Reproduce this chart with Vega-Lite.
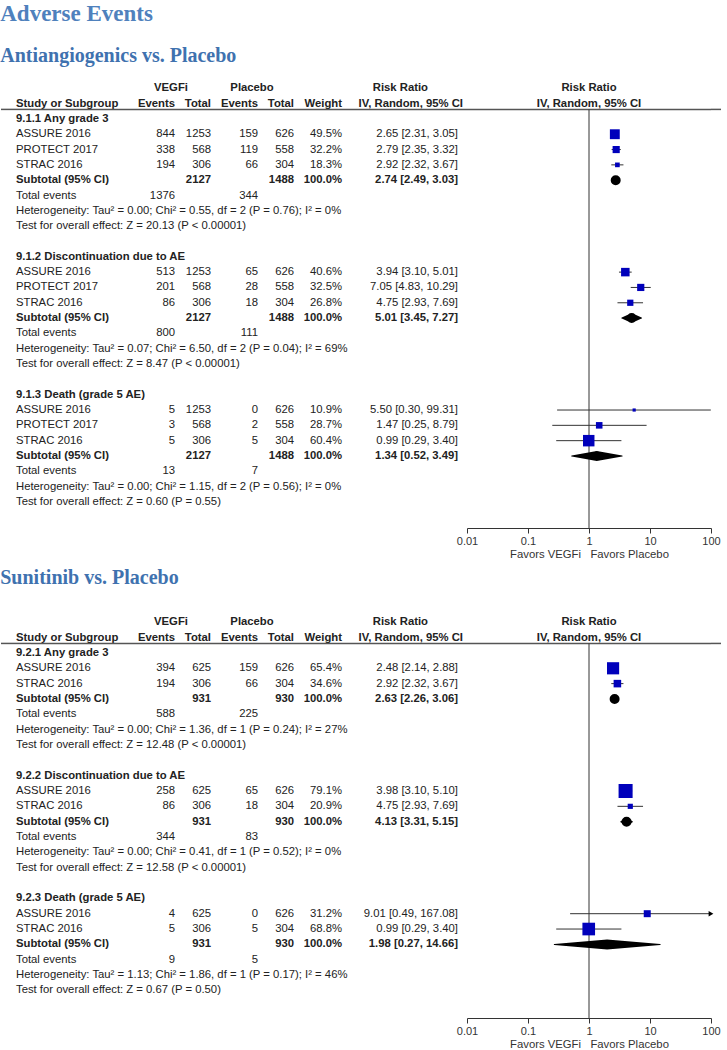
{
"$schema": "https://vega.github.io/schema/vega-lite/v6.json",
"padding": {"left": 0, "top": 3, "right": 0, "bottom": 0},
"background": "white",
"title": {"text": "Adverse Events", "subtitle": "Antiangiogenics vs. Placebo", "anchor": "start", "font": "Liberation Serif", "fontSize": 23, "fontWeight": "bold", "color": "#4F81BD", "subtitleFont": "Liberation Serif", "subtitleFontSize": 20, "subtitleFontWeight": "bold", "subtitleColor": "#3F72AF", "subtitlePadding": 20, "offset": 10},
"config": {"view": {"stroke": null}, "axis": {"grid": false}, "text": {"font": "Liberation Sans", "fontSize": 11.3, "color": "#222", "baseline": "middle"}},
"datasets": {
"hdr": [
{"row": -2, "col": "vE", "text": "VEGFi"},
{"row": -2, "col": "pE", "text": "Placebo"},
{"row": -2, "col": "ci", "text": "Risk Ratio"},
{"row": -2, "col": "forest", "text": "Risk Ratio"},
{"row": -1, "col": "study", "text": "Study or Subgroup"},
{"row": -1, "col": "vE", "text": "Events"},
{"row": -1, "col": "vT", "text": "Total"},
{"row": -1, "col": "pE", "text": "Events"},
{"row": -1, "col": "pT", "text": "Total"},
{"row": -1, "col": "w", "text": "Weight"},
{"row": -1, "col": "ci", "text": "IV, Random, 95% CI"},
{"row": -1, "col": "forest", "text": "IV, Random, 95% CI"}
],
"a": [
{"row": 0, "kind": "group", "study": "9.1.1 Any grade 3"},
{"row": 1, "kind": "study", "study": "ASSURE 2016", "vE": 844, "vT": 1253, "pE": 159, "pT": 626, "w": 0.495, "ci": "2.65 [2.31, 3.05]", "est": 2.65, "lo": 2.31, "hi": 3.05},
{"row": 2, "kind": "study", "study": "PROTECT 2017", "vE": 338, "vT": 568, "pE": 119, "pT": 558, "w": 0.322, "ci": "2.79 [2.35, 3.32]", "est": 2.79, "lo": 2.35, "hi": 3.32},
{"row": 3, "kind": "study", "study": "STRAC 2016", "vE": 194, "vT": 306, "pE": 66, "pT": 304, "w": 0.183, "ci": "2.92 [2.32, 3.67]", "est": 2.92, "lo": 2.32, "hi": 3.67},
{"row": 4, "kind": "sub", "study": "Subtotal (95% CI)", "vT": 2127, "pT": 1488, "w": 1, "ci": "2.74 [2.49, 3.03]", "est": 2.74, "lo": 2.49, "hi": 3.03},
{"row": 5, "kind": "tot", "study": "Total events", "vE": 1376, "pE": 344},
{"row": 6, "kind": "note", "study": "Heterogeneity: Tau² = 0.00; Chi² = 0.55, df = 2 (P = 0.76); I² = 0%"},
{"row": 7, "kind": "note", "study": "Test for overall effect: Z = 20.13 (P < 0.00001)"},
{"row": 9, "kind": "group", "study": "9.1.2 Discontinuation due to AE"},
{"row": 10, "kind": "study", "study": "ASSURE 2016", "vE": 513, "vT": 1253, "pE": 65, "pT": 626, "w": 0.406, "ci": "3.94 [3.10, 5.01]", "est": 3.94, "lo": 3.10, "hi": 5.01},
{"row": 11, "kind": "study", "study": "PROTECT 2017", "vE": 201, "vT": 568, "pE": 28, "pT": 558, "w": 0.325, "ci": "7.05 [4.83, 10.29]", "est": 7.05, "lo": 4.83, "hi": 10.29},
{"row": 12, "kind": "study", "study": "STRAC 2016", "vE": 86, "vT": 306, "pE": 18, "pT": 304, "w": 0.268, "ci": "4.75 [2.93, 7.69]", "est": 4.75, "lo": 2.93, "hi": 7.69},
{"row": 13, "kind": "sub", "study": "Subtotal (95% CI)", "vT": 2127, "pT": 1488, "w": 1, "ci": "5.01 [3.45, 7.27]", "est": 5.01, "lo": 3.45, "hi": 7.27},
{"row": 14, "kind": "tot", "study": "Total events", "vE": 800, "pE": 111},
{"row": 15, "kind": "note", "study": "Heterogeneity: Tau² = 0.07; Chi² = 6.50, df = 2 (P = 0.04); I² = 69%"},
{"row": 16, "kind": "note", "study": "Test for overall effect: Z = 8.47 (P < 0.00001)"},
{"row": 18, "kind": "group", "study": "9.1.3 Death (grade 5 AE)"},
{"row": 19, "kind": "study", "study": "ASSURE 2016", "vE": 5, "vT": 1253, "pE": 0, "pT": 626, "w": 0.109, "ci": "5.50 [0.30, 99.31]", "est": 5.50, "lo": 0.30, "hi": 99.31},
{"row": 20, "kind": "study", "study": "PROTECT 2017", "vE": 3, "vT": 568, "pE": 2, "pT": 558, "w": 0.287, "ci": "1.47 [0.25, 8.79]", "est": 1.47, "lo": 0.25, "hi": 8.79},
{"row": 21, "kind": "study", "study": "STRAC 2016", "vE": 5, "vT": 306, "pE": 5, "pT": 304, "w": 0.604, "ci": "0.99 [0.29, 3.40]", "est": 0.99, "lo": 0.29, "hi": 3.40},
{"row": 22, "kind": "sub", "study": "Subtotal (95% CI)", "vT": 2127, "pT": 1488, "w": 1, "ci": "1.34 [0.52, 3.49]", "est": 1.34, "lo": 0.52, "hi": 3.49},
{"row": 23, "kind": "tot", "study": "Total events", "vE": 13, "pE": 7},
{"row": 24, "kind": "note", "study": "Heterogeneity: Tau² = 0.00; Chi² = 1.15, df = 2 (P = 0.56); I² = 0%"},
{"row": 25, "kind": "note", "study": "Test for overall effect: Z = 0.60 (P = 0.55)"}
],
"s": [
{"row": 0, "kind": "group", "study": "9.2.1 Any grade 3"},
{"row": 1, "kind": "study", "study": "ASSURE 2016", "vE": 394, "vT": 625, "pE": 159, "pT": 626, "w": 0.654, "ci": "2.48 [2.14, 2.88]", "est": 2.48, "lo": 2.14, "hi": 2.88},
{"row": 2, "kind": "study", "study": "STRAC 2016", "vE": 194, "vT": 306, "pE": 66, "pT": 304, "w": 0.346, "ci": "2.92 [2.32, 3.67]", "est": 2.92, "lo": 2.32, "hi": 3.67},
{"row": 3, "kind": "sub", "study": "Subtotal (95% CI)", "vT": 931, "pT": 930, "w": 1, "ci": "2.63 [2.26, 3.06]", "est": 2.63, "lo": 2.26, "hi": 3.06},
{"row": 4, "kind": "tot", "study": "Total events", "vE": 588, "pE": 225},
{"row": 5, "kind": "note", "study": "Heterogeneity: Tau² = 0.00; Chi² = 1.36, df = 1 (P = 0.24); I² = 27%"},
{"row": 6, "kind": "note", "study": "Test for overall effect: Z = 12.48 (P < 0.00001)"},
{"row": 8, "kind": "group", "study": "9.2.2 Discontinuation due to AE"},
{"row": 9, "kind": "study", "study": "ASSURE 2016", "vE": 258, "vT": 625, "pE": 65, "pT": 626, "w": 0.791, "ci": "3.98 [3.10, 5.10]", "est": 3.98, "lo": 3.10, "hi": 5.10},
{"row": 10, "kind": "study", "study": "STRAC 2016", "vE": 86, "vT": 306, "pE": 18, "pT": 304, "w": 0.209, "ci": "4.75 [2.93, 7.69]", "est": 4.75, "lo": 2.93, "hi": 7.69},
{"row": 11, "kind": "sub", "study": "Subtotal (95% CI)", "vT": 931, "pT": 930, "w": 1, "ci": "4.13 [3.31, 5.15]", "est": 4.13, "lo": 3.31, "hi": 5.15},
{"row": 12, "kind": "tot", "study": "Total events", "vE": 344, "pE": 83},
{"row": 13, "kind": "note", "study": "Heterogeneity: Tau² = 0.00; Chi² = 0.41, df = 1 (P = 0.52); I² = 0%"},
{"row": 14, "kind": "note", "study": "Test for overall effect: Z = 12.58 (P < 0.00001)"},
{"row": 16, "kind": "group", "study": "9.2.3 Death (grade 5 AE)"},
{"row": 17, "kind": "study", "study": "ASSURE 2016", "vE": 4, "vT": 625, "pE": 0, "pT": 626, "w": 0.312, "ci": "9.01 [0.49, 167.08]", "est": 9.01, "lo": 0.49, "hi": 167.08},
{"row": 18, "kind": "study", "study": "STRAC 2016", "vE": 5, "vT": 306, "pE": 5, "pT": 304, "w": 0.688, "ci": "0.99 [0.29, 3.40]", "est": 0.99, "lo": 0.29, "hi": 3.40},
{"row": 19, "kind": "sub", "study": "Subtotal (95% CI)", "vT": 931, "pT": 930, "w": 1, "ci": "1.98 [0.27, 14.66]", "est": 1.98, "lo": 0.27, "hi": 14.66},
{"row": 20, "kind": "tot", "study": "Total events", "vE": 9, "pE": 5},
{"row": 21, "kind": "note", "study": "Heterogeneity: Tau² = 1.13; Chi² = 1.86, df = 1 (P = 0.17); I² = 46%"},
{"row": 22, "kind": "note", "study": "Test for overall effect: Z = 0.67 (P = 0.50)"}
]
},
"spacing": 8,
"vconcat": [
{
"bounds": "flush",
"spacing": 0,
"hconcat": [
{"width": 30, "height": 452, "data": {"name": "a"},
 "encoding": {"y": {"field": "row", "type": "quantitative", "scale": {"domain": [-2.8, 26.7], "reverse": true, "nice": false, "zero": false}, "axis": null}},
 "layer": [
  {"transform": [{"filter": "datum.kind=='study'||datum.kind=='tot'||datum.kind=='note'"}], "mark": {"type": "text", "align": "left"}, "encoding": {"text": {"field": "study", "type": "nominal"}}},
  {"transform": [{"filter": "datum.kind=='group'||datum.kind=='sub'"}], "mark": {"type": "text", "align": "left", "fontWeight": "bold"}, "encoding": {"text": {"field": "study", "type": "nominal"}}},
  {"data": {"name": "hdr"}, "transform": [{"filter": "datum.col=='study'"}], "mark": {"type": "text", "align": "left", "fontWeight": "bold"}, "encoding": {"text": {"field": "text", "type": "nominal"}}},
  {"data": {"name": "hdr"}, "transform": [{"filter": "datum.col=='study'"}], "mark": {"type": "rule", "color": "#555", "strokeWidth": 1.5}, "encoding": {"y": {"datum": -0.62, "type": "quantitative", "scale": {"domain": [-2.8, 26.7], "reverse": true, "nice": false, "zero": false}, "axis": null}}}
 ]},
{"width": 144, "height": 452, "data": {"name": "a"},
 "encoding": {"y": {"field": "row", "type": "quantitative", "scale": {"domain": [-2.8, 26.7], "reverse": true, "nice": false, "zero": false}, "axis": null}},
 "layer": [
  {"transform": [{"filter": "isValid(datum.vE)"}], "mark": {"type": "text", "align": "right"}, "encoding": {"x": {"value": "width"}, "text": {"field": "vE", "type": "quantitative"}}},
  {"data": {"name": "hdr"}, "transform": [{"filter": "datum.col=='vE'&&datum.row==-1"}], "mark": {"type": "text", "align": "right", "fontWeight": "bold"}, "encoding": {"x": {"value": "width"}, "text": {"field": "text", "type": "nominal"}}},
  {"data": {"name": "hdr"}, "transform": [{"filter": "datum.col=='vE'&&datum.row==-2"}], "mark": {"type": "text", "align": "center", "fontWeight": "bold", "dx": -4}, "encoding": {"x": {"value": "width"}, "text": {"field": "text", "type": "nominal"}}},
  {"data": {"name": "hdr"}, "transform": [{"filter": "datum.col=='study'"}], "mark": {"type": "rule", "color": "#555", "strokeWidth": 1.5}, "encoding": {"y": {"datum": -0.62, "type": "quantitative", "scale": {"domain": [-2.8, 26.7], "reverse": true, "nice": false, "zero": false}, "axis": null}}}
 ]},
{"width": 36, "height": 452, "data": {"name": "a"},
 "encoding": {"y": {"field": "row", "type": "quantitative", "scale": {"domain": [-2.8, 26.7], "reverse": true, "nice": false, "zero": false}, "axis": null}},
 "layer": [
  {"transform": [{"filter": "isValid(datum.vT)&&datum.kind!='sub'"}], "mark": {"type": "text", "align": "right"}, "encoding": {"x": {"value": "width"}, "text": {"field": "vT", "type": "quantitative"}}},
  {"transform": [{"filter": "isValid(datum.vT)&&datum.kind=='sub'"}], "mark": {"type": "text", "align": "right", "fontWeight": "bold"}, "encoding": {"x": {"value": "width"}, "text": {"field": "vT", "type": "quantitative"}}},
  {"data": {"name": "hdr"}, "transform": [{"filter": "datum.col=='vT'"}], "mark": {"type": "text", "align": "right", "fontWeight": "bold"}, "encoding": {"x": {"value": "width"}, "text": {"field": "text", "type": "nominal"}}},
  {"data": {"name": "hdr"}, "transform": [{"filter": "datum.col=='study'"}], "mark": {"type": "rule", "color": "#555", "strokeWidth": 1.5}, "encoding": {"y": {"datum": -0.62, "type": "quantitative", "scale": {"domain": [-2.8, 26.7], "reverse": true, "nice": false, "zero": false}, "axis": null}}}
 ]},
{"width": 47, "height": 452, "data": {"name": "a"},
 "encoding": {"y": {"field": "row", "type": "quantitative", "scale": {"domain": [-2.8, 26.7], "reverse": true, "nice": false, "zero": false}, "axis": null}},
 "layer": [
  {"transform": [{"filter": "isValid(datum.pE)"}], "mark": {"type": "text", "align": "right"}, "encoding": {"x": {"value": "width"}, "text": {"field": "pE", "type": "quantitative"}}},
  {"data": {"name": "hdr"}, "transform": [{"filter": "datum.col=='pE'&&datum.row==-1"}], "mark": {"type": "text", "align": "right", "fontWeight": "bold"}, "encoding": {"x": {"value": "width"}, "text": {"field": "text", "type": "nominal"}}},
  {"data": {"name": "hdr"}, "transform": [{"filter": "datum.col=='pE'&&datum.row==-2"}], "mark": {"type": "text", "align": "center", "fontWeight": "bold", "dx": -6}, "encoding": {"x": {"value": "width"}, "text": {"field": "text", "type": "nominal"}}},
  {"data": {"name": "hdr"}, "transform": [{"filter": "datum.col=='study'"}], "mark": {"type": "rule", "color": "#555", "strokeWidth": 1.5}, "encoding": {"y": {"datum": -0.62, "type": "quantitative", "scale": {"domain": [-2.8, 26.7], "reverse": true, "nice": false, "zero": false}, "axis": null}}}
 ]},
{"width": 36, "height": 452, "data": {"name": "a"},
 "encoding": {"y": {"field": "row", "type": "quantitative", "scale": {"domain": [-2.8, 26.7], "reverse": true, "nice": false, "zero": false}, "axis": null}},
 "layer": [
  {"transform": [{"filter": "isValid(datum.pT)&&datum.kind!='sub'"}], "mark": {"type": "text", "align": "right"}, "encoding": {"x": {"value": "width"}, "text": {"field": "pT", "type": "quantitative"}}},
  {"transform": [{"filter": "isValid(datum.pT)&&datum.kind=='sub'"}], "mark": {"type": "text", "align": "right", "fontWeight": "bold"}, "encoding": {"x": {"value": "width"}, "text": {"field": "pT", "type": "quantitative"}}},
  {"data": {"name": "hdr"}, "transform": [{"filter": "datum.col=='pT'"}], "mark": {"type": "text", "align": "right", "fontWeight": "bold"}, "encoding": {"x": {"value": "width"}, "text": {"field": "text", "type": "nominal"}}},
  {"data": {"name": "hdr"}, "transform": [{"filter": "datum.col=='study'"}], "mark": {"type": "rule", "color": "#555", "strokeWidth": 1.5}, "encoding": {"y": {"datum": -0.62, "type": "quantitative", "scale": {"domain": [-2.8, 26.7], "reverse": true, "nice": false, "zero": false}, "axis": null}}}
 ]},
{"width": 48, "height": 452, "data": {"name": "a"},
 "encoding": {"y": {"field": "row", "type": "quantitative", "scale": {"domain": [-2.8, 26.7], "reverse": true, "nice": false, "zero": false}, "axis": null}},
 "layer": [
  {"transform": [{"filter": "isValid(datum.w)&&datum.kind!='sub'"}], "mark": {"type": "text", "align": "right"}, "encoding": {"x": {"value": "width"}, "text": {"field": "w", "type": "quantitative", "format": ".1%"}}},
  {"transform": [{"filter": "isValid(datum.w)&&datum.kind=='sub'"}], "mark": {"type": "text", "align": "right", "fontWeight": "bold"}, "encoding": {"x": {"value": "width"}, "text": {"field": "w", "type": "quantitative", "format": ".1%"}}},
  {"data": {"name": "hdr"}, "transform": [{"filter": "datum.col=='w'"}], "mark": {"type": "text", "align": "right", "fontWeight": "bold"}, "encoding": {"x": {"value": "width"}, "text": {"field": "text", "type": "nominal"}}},
  {"data": {"name": "hdr"}, "transform": [{"filter": "datum.col=='study'"}], "mark": {"type": "rule", "color": "#555", "strokeWidth": 1.5}, "encoding": {"y": {"datum": -0.62, "type": "quantitative", "scale": {"domain": [-2.8, 26.7], "reverse": true, "nice": false, "zero": false}, "axis": null}}}
 ]},
{"width": 125, "height": 452, "data": {"name": "a"},
 "encoding": {"y": {"field": "row", "type": "quantitative", "scale": {"domain": [-2.8, 26.7], "reverse": true, "nice": false, "zero": false}, "axis": null}},
 "layer": [
  {"transform": [{"filter": "isValid(datum.ci)&&datum.kind!='sub'"}], "mark": {"type": "text", "align": "right", "dx": -9}, "encoding": {"x": {"value": "width"}, "text": {"field": "ci", "type": "nominal"}}},
  {"transform": [{"filter": "isValid(datum.ci)&&datum.kind=='sub'"}], "mark": {"type": "text", "align": "right", "fontWeight": "bold", "dx": -9}, "encoding": {"x": {"value": "width"}, "text": {"field": "ci", "type": "nominal"}}},
  {"data": {"name": "hdr"}, "transform": [{"filter": "datum.col=='ci'&&datum.row==-1"}], "mark": {"type": "text", "align": "right", "fontWeight": "bold", "dx": -4}, "encoding": {"x": {"value": "width"}, "text": {"field": "text", "type": "nominal"}}},
  {"data": {"name": "hdr"}, "transform": [{"filter": "datum.col=='ci'&&datum.row==-2"}], "mark": {"type": "text", "align": "right", "fontWeight": "bold", "dx": -39}, "encoding": {"x": {"value": "width"}, "text": {"field": "text", "type": "nominal"}}},
  {"data": {"name": "hdr"}, "transform": [{"filter": "datum.col=='study'"}], "mark": {"type": "rule", "color": "#555", "strokeWidth": 1.5}, "encoding": {"y": {"datum": -0.62, "type": "quantitative", "scale": {"domain": [-2.8, 26.7], "reverse": true, "nice": false, "zero": false}, "axis": null}}}
 ]},
{"width": 244, "height": 452, "data": {"name": "a"},
 "encoding": {"y": {"field": "row", "type": "quantitative", "scale": {"domain": [-2.8, 26.7], "reverse": true, "nice": false, "zero": false}, "axis": null}},
 "layer": [
  {"data": {"name": "hdr"}, "transform": [{"filter": "datum.col=='forest'"}], "mark": {"type": "text", "align": "center", "fontWeight": "bold"}, "encoding": {"x": {"datum": 1, "type": "quantitative", "scale": {"type": "log", "domain": [0.01, 100], "clamp": true, "nice": false}}, "text": {"field": "text", "type": "nominal"}}},
  {"data": {"name": "hdr"}, "transform": [{"filter": "datum.col=='study'"}], "mark": {"type": "rule", "color": "#555", "strokeWidth": 1.5}, "encoding": {"y": {"datum": -0.62, "type": "quantitative", "scale": {"domain": [-2.8, 26.7], "reverse": true, "nice": false, "zero": false}, "axis": null}}},
  {"data": {"name": "hdr"}, "transform": [{"filter": "datum.col=='study'"}], "mark": {"type": "rule", "color": "#333", "strokeWidth": 1}, "encoding": {"x": {"datum": 1, "type": "quantitative", "scale": {"type": "log", "domain": [0.01, 100], "clamp": true, "nice": false}}, "y": {"datum": -0.62, "type": "quantitative", "scale": {"domain": [-2.8, 26.7], "reverse": true, "nice": false, "zero": false}, "axis": null}, "y2": {"datum": 26.7}}},
  {"transform": [{"filter": "datum.kind=='study'"}], "mark": {"type": "rule", "color": "#333", "strokeWidth": 1}, "encoding": {"x": {"field": "lo", "type": "quantitative", "scale": {"type": "log", "domain": [0.01, 100], "clamp": true, "nice": false}, "axis": {"values": [0.01, 0.1, 1, 10, 100], "format": "~g", "title": "Favors VEGFi\u00a0\u00a0 Favors Placebo", "titleFont": "Liberation Sans", "titleFontSize": 11.3, "titleFontWeight": "normal", "titleColor": "#333", "labelFont": "Liberation Sans", "labelFontSize": 11, "labelColor": "#333", "domainColor": "#333", "tickColor": "#333", "tickSize": 5, "labelPadding": 2, "titlePadding": 2, "labelFlush": false, "labelOverlap": false}}, "x2": {"field": "hi"}}},
  {"transform": [{"filter": "datum.kind=='study'"}], "mark": {"type": "point", "shape": "square", "filled": true, "color": "#0000BB", "opacity": 1}, "encoding": {"x": {"field": "est", "type": "quantitative", "scale": {"type": "log", "domain": [0.01, 100], "clamp": true, "nice": false}}, "size": {"field": "w", "type": "quantitative", "scale": {"type": "pow", "exponent": 1.5, "domain": [0, 1], "range": [0, 280]}, "legend": null}}},
  {"transform": [{"filter": "datum.kind=='sub'"}, {"fold": ["lo", "est", "hi"], "as": ["pt", "v"]}], "mark": {"type": "trail", "color": "black"}, "encoding": {"x": {"field": "v", "type": "quantitative", "scale": {"type": "log", "domain": [0.01, 100], "clamp": true, "nice": false}}, "detail": {"field": "row", "type": "nominal"}, "order": {"field": "v", "type": "quantitative"}, "size": {"condition": {"test": "datum.pt=='est'", "value": 10}, "value": 0}}},
  {"transform": [{"filter": "datum.kind=='study'&&datum.hi>100"}], "mark": {"type": "point", "shape": "triangle-right", "filled": true, "color": "black", "size": 30, "opacity": 1}, "encoding": {"x": {"field": "hi", "type": "quantitative", "scale": {"type": "log", "domain": [0.01, 100], "clamp": true, "nice": false}}}}
 ]},
{"width": 10, "height": 452, "data": {"name": "hdr"}, "transform": [{"filter": "datum.col=='study'"}], "mark": {"type": "rule", "color": "#555", "strokeWidth": 1.5}, "encoding": {"y": {"datum": -0.62, "type": "quantitative", "scale": {"domain": [-2.8, 26.7], "reverse": true, "nice": false, "zero": false}, "axis": null}}}
]
},
{
"bounds": "flush",
"spacing": 0,
"title": {"text": "Sunitinib vs. Placebo", "anchor": "start", "font": "Liberation Serif", "fontSize": 20, "fontWeight": "bold", "color": "#3F72AF", "offset": 22},
"hconcat": [
{"width": 30, "height": 408, "data": {"name": "s"},
 "encoding": {"y": {"field": "row", "type": "quantitative", "scale": {"domain": [-2.8, 23.8], "reverse": true, "nice": false, "zero": false}, "axis": null}},
 "layer": [
  {"transform": [{"filter": "datum.kind=='study'||datum.kind=='tot'||datum.kind=='note'"}], "mark": {"type": "text", "align": "left"}, "encoding": {"text": {"field": "study", "type": "nominal"}}},
  {"transform": [{"filter": "datum.kind=='group'||datum.kind=='sub'"}], "mark": {"type": "text", "align": "left", "fontWeight": "bold"}, "encoding": {"text": {"field": "study", "type": "nominal"}}},
  {"data": {"name": "hdr"}, "transform": [{"filter": "datum.col=='study'"}], "mark": {"type": "text", "align": "left", "fontWeight": "bold"}, "encoding": {"text": {"field": "text", "type": "nominal"}}},
  {"data": {"name": "hdr"}, "transform": [{"filter": "datum.col=='study'"}], "mark": {"type": "rule", "color": "#555", "strokeWidth": 1.5}, "encoding": {"y": {"datum": -0.62, "type": "quantitative", "scale": {"domain": [-2.8, 23.8], "reverse": true, "nice": false, "zero": false}, "axis": null}}}
 ]},
{"width": 144, "height": 408, "data": {"name": "s"},
 "encoding": {"y": {"field": "row", "type": "quantitative", "scale": {"domain": [-2.8, 23.8], "reverse": true, "nice": false, "zero": false}, "axis": null}},
 "layer": [
  {"transform": [{"filter": "isValid(datum.vE)"}], "mark": {"type": "text", "align": "right"}, "encoding": {"x": {"value": "width"}, "text": {"field": "vE", "type": "quantitative"}}},
  {"data": {"name": "hdr"}, "transform": [{"filter": "datum.col=='vE'&&datum.row==-1"}], "mark": {"type": "text", "align": "right", "fontWeight": "bold"}, "encoding": {"x": {"value": "width"}, "text": {"field": "text", "type": "nominal"}}},
  {"data": {"name": "hdr"}, "transform": [{"filter": "datum.col=='vE'&&datum.row==-2"}], "mark": {"type": "text", "align": "center", "fontWeight": "bold", "dx": -4}, "encoding": {"x": {"value": "width"}, "text": {"field": "text", "type": "nominal"}}},
  {"data": {"name": "hdr"}, "transform": [{"filter": "datum.col=='study'"}], "mark": {"type": "rule", "color": "#555", "strokeWidth": 1.5}, "encoding": {"y": {"datum": -0.62, "type": "quantitative", "scale": {"domain": [-2.8, 23.8], "reverse": true, "nice": false, "zero": false}, "axis": null}}}
 ]},
{"width": 36, "height": 408, "data": {"name": "s"},
 "encoding": {"y": {"field": "row", "type": "quantitative", "scale": {"domain": [-2.8, 23.8], "reverse": true, "nice": false, "zero": false}, "axis": null}},
 "layer": [
  {"transform": [{"filter": "isValid(datum.vT)&&datum.kind!='sub'"}], "mark": {"type": "text", "align": "right"}, "encoding": {"x": {"value": "width"}, "text": {"field": "vT", "type": "quantitative"}}},
  {"transform": [{"filter": "isValid(datum.vT)&&datum.kind=='sub'"}], "mark": {"type": "text", "align": "right", "fontWeight": "bold"}, "encoding": {"x": {"value": "width"}, "text": {"field": "vT", "type": "quantitative"}}},
  {"data": {"name": "hdr"}, "transform": [{"filter": "datum.col=='vT'"}], "mark": {"type": "text", "align": "right", "fontWeight": "bold"}, "encoding": {"x": {"value": "width"}, "text": {"field": "text", "type": "nominal"}}},
  {"data": {"name": "hdr"}, "transform": [{"filter": "datum.col=='study'"}], "mark": {"type": "rule", "color": "#555", "strokeWidth": 1.5}, "encoding": {"y": {"datum": -0.62, "type": "quantitative", "scale": {"domain": [-2.8, 23.8], "reverse": true, "nice": false, "zero": false}, "axis": null}}}
 ]},
{"width": 47, "height": 408, "data": {"name": "s"},
 "encoding": {"y": {"field": "row", "type": "quantitative", "scale": {"domain": [-2.8, 23.8], "reverse": true, "nice": false, "zero": false}, "axis": null}},
 "layer": [
  {"transform": [{"filter": "isValid(datum.pE)"}], "mark": {"type": "text", "align": "right"}, "encoding": {"x": {"value": "width"}, "text": {"field": "pE", "type": "quantitative"}}},
  {"data": {"name": "hdr"}, "transform": [{"filter": "datum.col=='pE'&&datum.row==-1"}], "mark": {"type": "text", "align": "right", "fontWeight": "bold"}, "encoding": {"x": {"value": "width"}, "text": {"field": "text", "type": "nominal"}}},
  {"data": {"name": "hdr"}, "transform": [{"filter": "datum.col=='pE'&&datum.row==-2"}], "mark": {"type": "text", "align": "center", "fontWeight": "bold", "dx": -6}, "encoding": {"x": {"value": "width"}, "text": {"field": "text", "type": "nominal"}}},
  {"data": {"name": "hdr"}, "transform": [{"filter": "datum.col=='study'"}], "mark": {"type": "rule", "color": "#555", "strokeWidth": 1.5}, "encoding": {"y": {"datum": -0.62, "type": "quantitative", "scale": {"domain": [-2.8, 23.8], "reverse": true, "nice": false, "zero": false}, "axis": null}}}
 ]},
{"width": 36, "height": 408, "data": {"name": "s"},
 "encoding": {"y": {"field": "row", "type": "quantitative", "scale": {"domain": [-2.8, 23.8], "reverse": true, "nice": false, "zero": false}, "axis": null}},
 "layer": [
  {"transform": [{"filter": "isValid(datum.pT)&&datum.kind!='sub'"}], "mark": {"type": "text", "align": "right"}, "encoding": {"x": {"value": "width"}, "text": {"field": "pT", "type": "quantitative"}}},
  {"transform": [{"filter": "isValid(datum.pT)&&datum.kind=='sub'"}], "mark": {"type": "text", "align": "right", "fontWeight": "bold"}, "encoding": {"x": {"value": "width"}, "text": {"field": "pT", "type": "quantitative"}}},
  {"data": {"name": "hdr"}, "transform": [{"filter": "datum.col=='pT'"}], "mark": {"type": "text", "align": "right", "fontWeight": "bold"}, "encoding": {"x": {"value": "width"}, "text": {"field": "text", "type": "nominal"}}},
  {"data": {"name": "hdr"}, "transform": [{"filter": "datum.col=='study'"}], "mark": {"type": "rule", "color": "#555", "strokeWidth": 1.5}, "encoding": {"y": {"datum": -0.62, "type": "quantitative", "scale": {"domain": [-2.8, 23.8], "reverse": true, "nice": false, "zero": false}, "axis": null}}}
 ]},
{"width": 48, "height": 408, "data": {"name": "s"},
 "encoding": {"y": {"field": "row", "type": "quantitative", "scale": {"domain": [-2.8, 23.8], "reverse": true, "nice": false, "zero": false}, "axis": null}},
 "layer": [
  {"transform": [{"filter": "isValid(datum.w)&&datum.kind!='sub'"}], "mark": {"type": "text", "align": "right"}, "encoding": {"x": {"value": "width"}, "text": {"field": "w", "type": "quantitative", "format": ".1%"}}},
  {"transform": [{"filter": "isValid(datum.w)&&datum.kind=='sub'"}], "mark": {"type": "text", "align": "right", "fontWeight": "bold"}, "encoding": {"x": {"value": "width"}, "text": {"field": "w", "type": "quantitative", "format": ".1%"}}},
  {"data": {"name": "hdr"}, "transform": [{"filter": "datum.col=='w'"}], "mark": {"type": "text", "align": "right", "fontWeight": "bold"}, "encoding": {"x": {"value": "width"}, "text": {"field": "text", "type": "nominal"}}},
  {"data": {"name": "hdr"}, "transform": [{"filter": "datum.col=='study'"}], "mark": {"type": "rule", "color": "#555", "strokeWidth": 1.5}, "encoding": {"y": {"datum": -0.62, "type": "quantitative", "scale": {"domain": [-2.8, 23.8], "reverse": true, "nice": false, "zero": false}, "axis": null}}}
 ]},
{"width": 125, "height": 408, "data": {"name": "s"},
 "encoding": {"y": {"field": "row", "type": "quantitative", "scale": {"domain": [-2.8, 23.8], "reverse": true, "nice": false, "zero": false}, "axis": null}},
 "layer": [
  {"transform": [{"filter": "isValid(datum.ci)&&datum.kind!='sub'"}], "mark": {"type": "text", "align": "right", "dx": -9}, "encoding": {"x": {"value": "width"}, "text": {"field": "ci", "type": "nominal"}}},
  {"transform": [{"filter": "isValid(datum.ci)&&datum.kind=='sub'"}], "mark": {"type": "text", "align": "right", "fontWeight": "bold", "dx": -9}, "encoding": {"x": {"value": "width"}, "text": {"field": "ci", "type": "nominal"}}},
  {"data": {"name": "hdr"}, "transform": [{"filter": "datum.col=='ci'&&datum.row==-1"}], "mark": {"type": "text", "align": "right", "fontWeight": "bold", "dx": -4}, "encoding": {"x": {"value": "width"}, "text": {"field": "text", "type": "nominal"}}},
  {"data": {"name": "hdr"}, "transform": [{"filter": "datum.col=='ci'&&datum.row==-2"}], "mark": {"type": "text", "align": "right", "fontWeight": "bold", "dx": -39}, "encoding": {"x": {"value": "width"}, "text": {"field": "text", "type": "nominal"}}},
  {"data": {"name": "hdr"}, "transform": [{"filter": "datum.col=='study'"}], "mark": {"type": "rule", "color": "#555", "strokeWidth": 1.5}, "encoding": {"y": {"datum": -0.62, "type": "quantitative", "scale": {"domain": [-2.8, 23.8], "reverse": true, "nice": false, "zero": false}, "axis": null}}}
 ]},
{"width": 244, "height": 408, "data": {"name": "s"},
 "encoding": {"y": {"field": "row", "type": "quantitative", "scale": {"domain": [-2.8, 23.8], "reverse": true, "nice": false, "zero": false}, "axis": null}},
 "layer": [
  {"data": {"name": "hdr"}, "transform": [{"filter": "datum.col=='forest'"}], "mark": {"type": "text", "align": "center", "fontWeight": "bold"}, "encoding": {"x": {"datum": 1, "type": "quantitative", "scale": {"type": "log", "domain": [0.01, 100], "clamp": true, "nice": false}}, "text": {"field": "text", "type": "nominal"}}},
  {"data": {"name": "hdr"}, "transform": [{"filter": "datum.col=='study'"}], "mark": {"type": "rule", "color": "#555", "strokeWidth": 1.5}, "encoding": {"y": {"datum": -0.62, "type": "quantitative", "scale": {"domain": [-2.8, 23.8], "reverse": true, "nice": false, "zero": false}, "axis": null}}},
  {"data": {"name": "hdr"}, "transform": [{"filter": "datum.col=='study'"}], "mark": {"type": "rule", "color": "#333", "strokeWidth": 1}, "encoding": {"x": {"datum": 1, "type": "quantitative", "scale": {"type": "log", "domain": [0.01, 100], "clamp": true, "nice": false}}, "y": {"datum": -0.62, "type": "quantitative", "scale": {"domain": [-2.8, 23.8], "reverse": true, "nice": false, "zero": false}, "axis": null}, "y2": {"datum": 23.8}}},
  {"transform": [{"filter": "datum.kind=='study'"}], "mark": {"type": "rule", "color": "#333", "strokeWidth": 1}, "encoding": {"x": {"field": "lo", "type": "quantitative", "scale": {"type": "log", "domain": [0.01, 100], "clamp": true, "nice": false}, "axis": {"values": [0.01, 0.1, 1, 10, 100], "format": "~g", "title": "Favors VEGFi\u00a0\u00a0 Favors Placebo", "titleFont": "Liberation Sans", "titleFontSize": 11.3, "titleFontWeight": "normal", "titleColor": "#333", "labelFont": "Liberation Sans", "labelFontSize": 11, "labelColor": "#333", "domainColor": "#333", "tickColor": "#333", "tickSize": 5, "labelPadding": 2, "titlePadding": 2, "labelFlush": false, "labelOverlap": false}}, "x2": {"field": "hi"}}},
  {"transform": [{"filter": "datum.kind=='study'"}], "mark": {"type": "point", "shape": "square", "filled": true, "color": "#0000BB", "opacity": 1}, "encoding": {"x": {"field": "est", "type": "quantitative", "scale": {"type": "log", "domain": [0.01, 100], "clamp": true, "nice": false}}, "size": {"field": "w", "type": "quantitative", "scale": {"type": "pow", "exponent": 1.5, "domain": [0, 1], "range": [0, 280]}, "legend": null}}},
  {"transform": [{"filter": "datum.kind=='sub'"}, {"fold": ["lo", "est", "hi"], "as": ["pt", "v"]}], "mark": {"type": "trail", "color": "black"}, "encoding": {"x": {"field": "v", "type": "quantitative", "scale": {"type": "log", "domain": [0.01, 100], "clamp": true, "nice": false}}, "detail": {"field": "row", "type": "nominal"}, "order": {"field": "v", "type": "quantitative"}, "size": {"condition": {"test": "datum.pt=='est'", "value": 10}, "value": 0}}},
  {"transform": [{"filter": "datum.kind=='study'&&datum.hi>100"}], "mark": {"type": "point", "shape": "triangle-right", "filled": true, "color": "black", "size": 30, "opacity": 1}, "encoding": {"x": {"field": "hi", "type": "quantitative", "scale": {"type": "log", "domain": [0.01, 100], "clamp": true, "nice": false}}}}
 ]},
{"width": 10, "height": 408, "data": {"name": "hdr"}, "transform": [{"filter": "datum.col=='study'"}], "mark": {"type": "rule", "color": "#555", "strokeWidth": 1.5}, "encoding": {"y": {"datum": -0.62, "type": "quantitative", "scale": {"domain": [-2.8, 23.8], "reverse": true, "nice": false, "zero": false}, "axis": null}}}
]
}
]
}
